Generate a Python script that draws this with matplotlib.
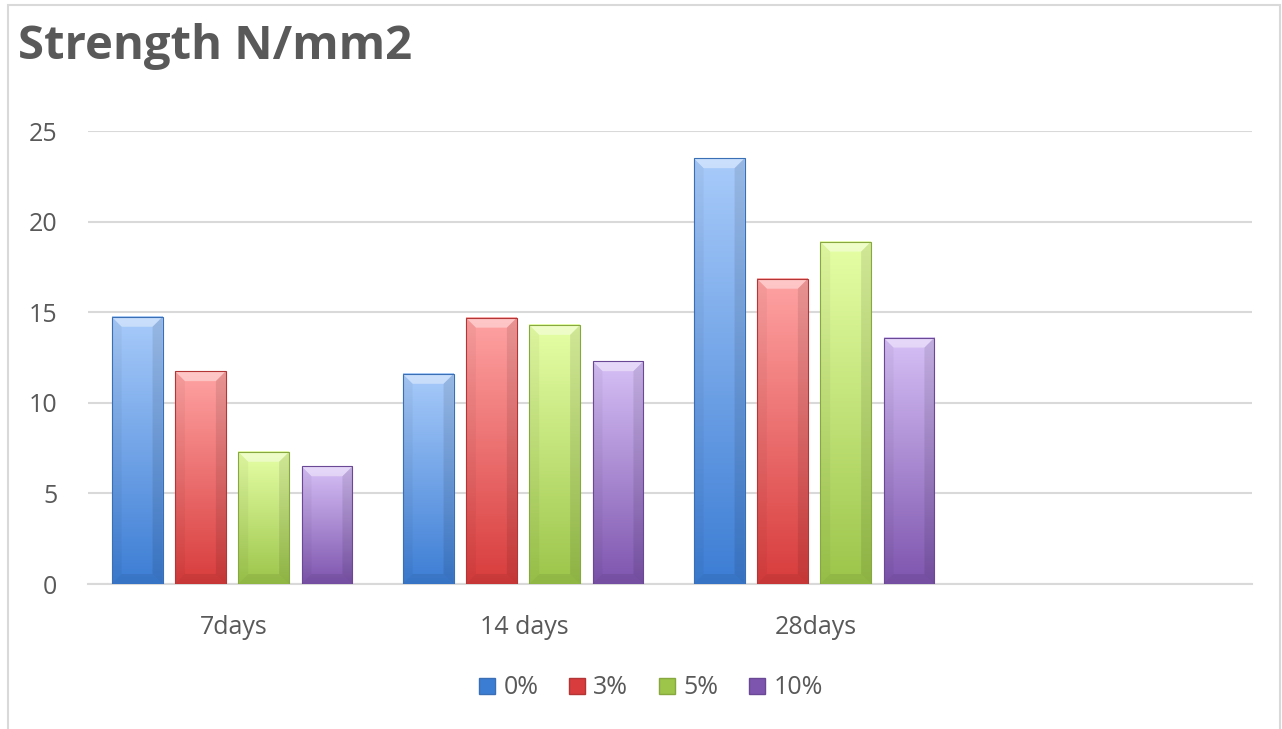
import matplotlib
matplotlib.use("Agg")
import matplotlib.pyplot as plt
import numpy as np
from matplotlib.colors import LinearSegmentedColormap
from matplotlib.patches import Rectangle, Polygon
from matplotlib.lines import Line2D

categories = ["7days", "14 days", "28days", ""]
series_names = ["0%", "3%", "5%", "10%"]
s0 = [14.75, 11.6, 23.5, None]
s3 = [11.75, 14.7, 16.85, None]
s5 = [7.3, 14.3, 18.9, None]
s10 = [6.5, 12.3, 13.6, None]
yticks = [0, 5, 10, 15, 20, 25]

top_colors = ["#a8cbfa", "#ffa3a3", "#e6ffa6", "#d6c0f6"]
bot_colors = ["#3c7dd4", "#d83c3c", "#9cc54a", "#7e55ae"]
edge_colors = ["#3a6fb5", "#b33535", "#86a83f", "#6a4896"]

W = 1282; H = 729
fig = plt.figure(figsize=(12.82, 7.29), dpi=100)
fig.patch.set_facecolor("white")
ax = fig.add_axes([88/W, 1-584/H, (1252-88)/W, (584-131)/H])
ax.set_facecolor("white")

fig.patches.append(Rectangle((8/W, -0.1), (1280-8)/W, 1.1-5/H, transform=fig.transFigure,
                             fill=False, edgecolor="#d9d9d9", linewidth=1.5))

pitch = 0.2175
bw = 0.175
shift = -0.005
x = np.arange(len(categories))
grad = np.linspace(1, 0, 256).reshape(-1, 1)
# bevel size in data units (~10 px)
dx = 10 * 4.0 / (1252 - 88)
dy = 10 * 25.0 / (584 - 131)
for i, (vals, tc, bc, ec) in enumerate(zip([s0, s3, s5, s10], top_colors, bot_colors, edge_colors)):
    cmap = LinearSegmentedColormap.from_list("g%d" % i, [bc, tc])
    offs = (i - 1.5) * pitch + shift
    for j, v in enumerate(vals):
        if v is None:
            continue
        x0 = x[j] + offs - bw/2
        x1 = x0 + bw
        ax.imshow(grad, extent=[x0, x1, 0, v], aspect="auto", cmap=cmap,
                  origin="upper", zorder=3, interpolation="bicubic")
        ax.add_patch(Polygon([(x0, v), (x1, v), (x1 - dx, v - dy), (x0 + dx, v - dy)],
                             closed=True, facecolor="white", alpha=0.4, edgecolor="none", zorder=4))
        ax.add_patch(Polygon([(x1, v), (x1, 0), (x1 - dx, dy), (x1 - dx, v - dy)],
                             closed=True, facecolor="black", alpha=0.09, edgecolor="none", zorder=4))
        ax.add_patch(Polygon([(x0, v), (x0, 0), (x0 + dx, dy), (x0 + dx, v - dy)],
                             closed=True, facecolor="black", alpha=0.04, edgecolor="none", zorder=4))
        ax.add_patch(Polygon([(x0, 0), (x1, 0), (x1 - dx, dy), (x0 + dx, dy)],
                             closed=True, facecolor="black", alpha=0.07, edgecolor="none", zorder=4))
        ax.add_patch(Rectangle((x0, 0), bw, v, fill=False, edgecolor=ec, linewidth=0.8, zorder=5))

ax.set_xlim(-0.5, 3.5)
ax.set_ylim(0, 25)
ax.set_yticks(yticks)
ax.set_xticks(x)
ax.set_xticklabels(categories)
ax.grid(axis="y", color="#d9d9d9", linewidth=1.5, zorder=0)
ax.set_axisbelow(True)
for s in ["top", "right", "left"]:
    ax.spines[s].set_visible(False)
ax.spines["bottom"].set_color("#d9d9d9")
ax.spines["bottom"].set_linewidth(1.5)
ax.tick_params(axis="both", length=0, labelsize=18, labelcolor="#595959")
ax.tick_params(axis="x", pad=22)
ax.tick_params(axis="y", pad=22)
for lab in ax.get_xticklabels() + ax.get_yticklabels():
    lab.set_fontfamily("Open Sans")

fig.text(18/W, 1-47/H, "Strength N/mm2", fontsize=34, fontweight="bold", color="#595959",
         family="Open Sans", va="center", ha="left")

handles = [Line2D([0], [0], marker="s", linestyle="none", markersize=11,
                  markerfacecolor=c, markeredgecolor=e) for c, e in zip(bot_colors, edge_colors)]
fig.legend(handles, series_names, loc="center", bbox_to_anchor=(650/W, 1-688/H), ncol=4,
           frameon=False, prop={"family": "Open Sans", "size": 18}, labelcolor="#595959",
           handlelength=0.8, handletextpad=0.25, columnspacing=1.15)

fig.savefig("out.png", dpi=100, facecolor="white")
